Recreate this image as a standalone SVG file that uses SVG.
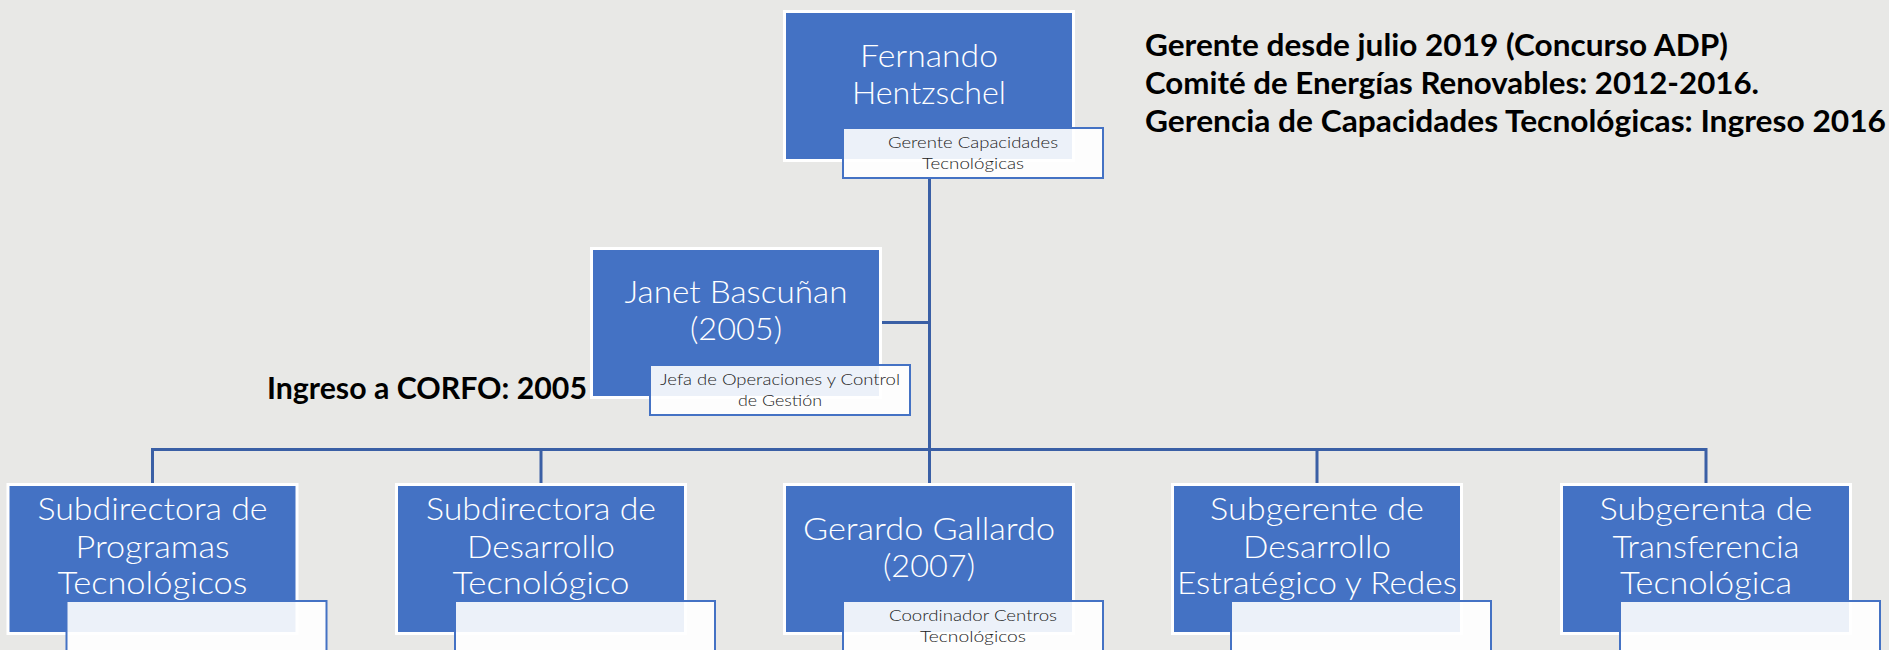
<svg xmlns="http://www.w3.org/2000/svg" width="1889" height="650" viewBox="0 0 1889 650">
<style>
.bg{fill:#E8E8E6}
.box{fill:#4472C4;stroke:#FFFFFF;stroke-width:3}
.lbl{fill:#FFFFFF;fill-opacity:0.9;stroke:#4472C4;stroke-width:2}
.conn{stroke:#3A5FA5;stroke-width:3;fill:none}
.name{font-family:Lato,"Open Sans","Liberation Sans",sans-serif;font-weight:300;font-size:31px;fill:#FFFFFF;text-anchor:middle}
.role{font-family:Lato,"Open Sans","Liberation Sans",sans-serif;font-weight:300;font-size:16px;fill:#222222;text-anchor:middle}
.note{font-family:Lato,"Liberation Sans",sans-serif;font-weight:700;font-size:31px;fill:#000000}
</style>
<rect class="bg" x="0" y="0" width="1889" height="650"/>
<g id="connectors">
<path class="conn" d="M929.5 179 V483"/>
<path class="conn" d="M881 322.5 H929.5"/>
<path class="conn" d="M152.5 483 V449.5 H1706 V483"/>
<path class="conn" d="M541 449.5 V483"/>
<path class="conn" d="M1317 449.5 V483"/>
</g>
<g id="node-fernando">
<rect class="box" x="784.5" y="11.5" width="289" height="149"/>
<text class="name" x="929" y="67" textLength="138" lengthAdjust="spacingAndGlyphs">Fernando</text>
<text class="name" x="929" y="104" textLength="154" lengthAdjust="spacingAndGlyphs">Hentzschel</text>
<rect class="lbl" x="843" y="128" width="260" height="50"/>
<text class="role" x="973" y="148" textLength="170" lengthAdjust="spacingAndGlyphs">Gerente Capacidades</text>
<text class="role" x="973" y="169" textLength="102" lengthAdjust="spacingAndGlyphs">Tecnológicas</text>
</g>
<g id="node-janet">
<rect class="box" x="591.5" y="248.5" width="289" height="149"/>
<text class="name" x="736" y="303" textLength="223" lengthAdjust="spacingAndGlyphs">Janet Bascuñan</text>
<text class="name" x="736" y="340" textLength="92" lengthAdjust="spacingAndGlyphs">(2005)</text>
<rect class="lbl" x="650" y="365" width="260" height="50"/>
<text class="role" x="780" y="385" textLength="240" lengthAdjust="spacingAndGlyphs">Jefa de Operaciones y Control</text>
<text class="role" x="780" y="406" textLength="84" lengthAdjust="spacingAndGlyphs">de Gestión</text>
</g>
<g id="node-programas">
<rect class="box" x="8" y="484.5" width="289" height="149"/>
<text class="name" x="152.5" y="520" textLength="230" lengthAdjust="spacingAndGlyphs">Subdirectora de</text>
<text class="name" x="152.5" y="558" textLength="154" lengthAdjust="spacingAndGlyphs">Programas</text>
<text class="name" x="152.5" y="594" textLength="190" lengthAdjust="spacingAndGlyphs">Tecnológicos</text>
<rect class="lbl" x="66.5" y="601" width="260" height="50"/>
</g>
<g id="node-desarrollo">
<rect class="box" x="396.5" y="484.5" width="289" height="149"/>
<text class="name" x="541" y="520" textLength="230" lengthAdjust="spacingAndGlyphs">Subdirectora de</text>
<text class="name" x="541" y="558" textLength="148" lengthAdjust="spacingAndGlyphs">Desarrollo</text>
<text class="name" x="541" y="594" textLength="177" lengthAdjust="spacingAndGlyphs">Tecnológico</text>
<rect class="lbl" x="455" y="601" width="260" height="50"/>
</g>
<g id="node-gerardo">
<rect class="box" x="784.5" y="484.5" width="289" height="149"/>
<text class="name" x="929" y="540" textLength="252" lengthAdjust="spacingAndGlyphs">Gerardo Gallardo</text>
<text class="name" x="929" y="577" textLength="92" lengthAdjust="spacingAndGlyphs">(2007)</text>
<rect class="lbl" x="843" y="601" width="260" height="50"/>
<text class="role" x="973" y="621" textLength="168" lengthAdjust="spacingAndGlyphs">Coordinador Centros</text>
<text class="role" x="973" y="642" textLength="106" lengthAdjust="spacingAndGlyphs">Tecnológicos</text>
</g>
<g id="node-estrategico">
<rect class="box" x="1172.5" y="484.5" width="289" height="149"/>
<text class="name" x="1317" y="520" textLength="214" lengthAdjust="spacingAndGlyphs">Subgerente de</text>
<text class="name" x="1317" y="558" textLength="148" lengthAdjust="spacingAndGlyphs">Desarrollo</text>
<text class="name" x="1317" y="594" textLength="280" lengthAdjust="spacingAndGlyphs">Estratégico y Redes</text>
<rect class="lbl" x="1231" y="601" width="260" height="50"/>
</g>
<g id="node-transferencia">
<rect class="box" x="1561.5" y="484.5" width="289" height="149"/>
<text class="name" x="1706" y="520" textLength="213" lengthAdjust="spacingAndGlyphs">Subgerenta de</text>
<text class="name" x="1706" y="558" textLength="187" lengthAdjust="spacingAndGlyphs">Transferencia</text>
<text class="name" x="1706" y="594" textLength="172" lengthAdjust="spacingAndGlyphs">Tecnológica</text>
<rect class="lbl" x="1620" y="601" width="260" height="50"/>
</g>
<g id="notes">
<text class="note" x="1145" y="56" textLength="583" lengthAdjust="spacingAndGlyphs">Gerente desde julio 2019 (Concurso ADP)</text>
<text class="note" x="1145" y="94" textLength="614" lengthAdjust="spacingAndGlyphs">Comité de Energías Renovables: 2012-2016.</text>
<text class="note" x="1145" y="132" textLength="741" lengthAdjust="spacingAndGlyphs">Gerencia de Capacidades Tecnológicas: Ingreso 2016</text>
<text class="note" x="267" y="399" textLength="320" lengthAdjust="spacingAndGlyphs">Ingreso a CORFO: 2005</text>
</g>
</svg>
